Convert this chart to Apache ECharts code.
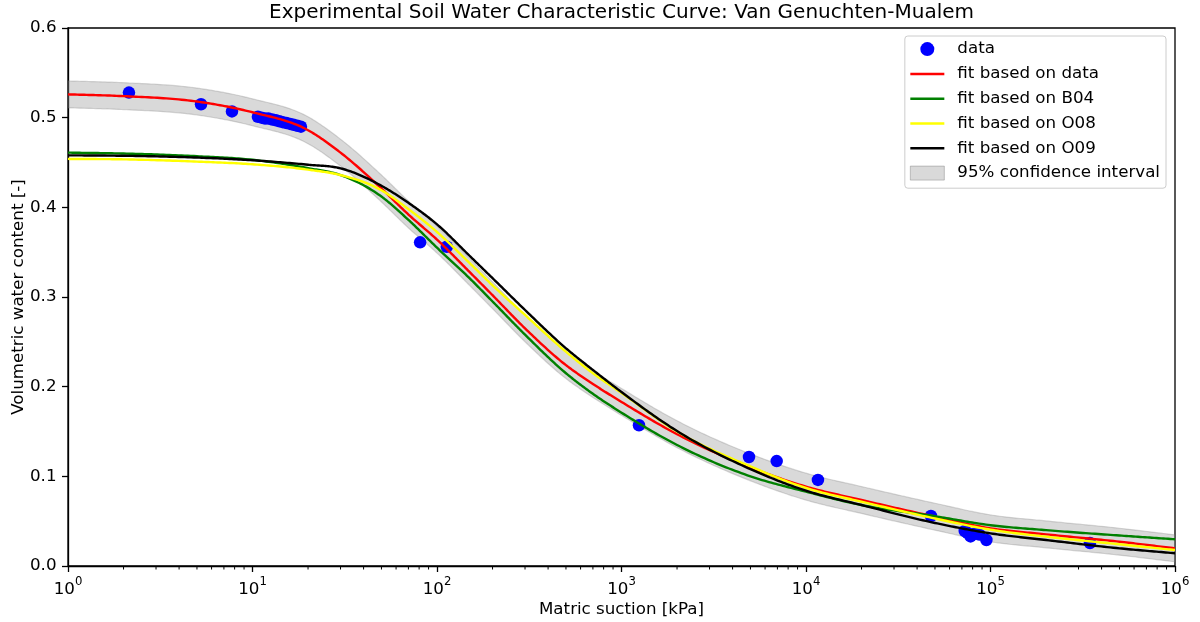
<!DOCTYPE html>
<html><head><meta charset="utf-8">
<script src="https://cdn.jsdelivr.net/npm/echarts@6/dist/echarts.min.js"></script>
<style>html,body{margin:0;padding:0;background:#fff}#c{width:1200px;height:622px}</style>
</head><body><div id="c"></div>
<script>
// ---- data ----
const suction = [1, 2, 5, 10, 20, 30, 50, 70, 100, 150, 200, 300, 500, 700, 1000, 2000, 5000, 10000, 20000, 50000, 100000, 200000, 500000, 1000000];
const fitData = [0.526, 0.524, 0.518, 0.506, 0.486, 0.461, 0.421, 0.392, 0.364, 0.328, 0.302, 0.265, 0.224, 0.203, 0.183, 0.147, 0.110, 0.0885, 0.0736, 0.055, 0.042, 0.0353, 0.0271, 0.0197];
const fitB04 = [0.461, 0.460, 0.457, 0.453, 0.4437, 0.436, 0.412, 0.386, 0.355, 0.321, 0.295, 0.258, 0.215, 0.192, 0.171, 0.135, 0.1, 0.0829, 0.068, 0.0555, 0.0455, 0.040, 0.034, 0.0298];
const fitO08 = [0.454, 0.4535, 0.451, 0.448, 0.442, 0.436, 0.419, 0.398, 0.3725, 0.338, 0.313, 0.280, 0.239, 0.215, 0.193, 0.150, 0.111, 0.087, 0.0717, 0.053, 0.0405, 0.0327, 0.0242, 0.0178];
const fitO09 = [0.458, 0.4575, 0.4555, 0.4525, 0.4475, 0.4435, 0.424, 0.405, 0.381, 0.346, 0.321, 0.2855, 0.2428, 0.2186, 0.194, 0.1505, 0.108, 0.084, 0.068, 0.048, 0.0364, 0.029, 0.0197, 0.0142];
const ciUpper = [0.541, 0.539, 0.533, 0.521, 0.501, 0.476, 0.436, 0.407, 0.379, 0.343, 0.317, 0.280, 0.239, 0.218, 0.198, 0.162, 0.125, 0.1035, 0.0886, 0.070, 0.057, 0.0503, 0.0421, 0.0347];
const ciLower = [0.511, 0.509, 0.503, 0.491, 0.471, 0.446, 0.406, 0.377, 0.349, 0.313, 0.287, 0.250, 0.209, 0.188, 0.168, 0.132, 0.095, 0.0735, 0.0586, 0.040, 0.027, 0.0203, 0.0121, 0.0047];

const obsSuction = [2.14, 5.26, 7.74, 10.7, 11.2, 11.7, 12.2, 12.8, 13.4, 14.0, 14.6, 15.3, 16.0, 16.7, 17.5, 18.3, 81, 113, 1244, 4909, 6936, 11610, 47550, 72500, 75000, 78000, 82000, 87000, 95000, 346000];
const obsTheta   = [0.528, 0.515, 0.507, 0.501, 0.500, 0.499, 0.499, 0.498, 0.497, 0.496, 0.495, 0.494, 0.493, 0.492, 0.491, 0.490, 0.361, 0.356, 0.157, 0.1216, 0.117, 0.096, 0.0558, 0.039, 0.037, 0.033, 0.036, 0.035, 0.029, 0.0257];

const xTickExponents = ['0', '1', '2', '3', '4', '5', '6'];
const yTickLabels = ['0.0', '0.1', '0.2', '0.3', '0.4', '0.5', '0.6'];

// ---- chart ----
const FONT = 'DejaVu Sans';
const FS = 16.7;
const minorTicks = [];
for (let e = 0; e < 6; e++) for (let m = 2; m <= 9; m++) minorTicks.push([m * Math.pow(10, e), 0]);
const lineIcon = 'path://M0,0H34V2.5H0Z';
const bandFill = 'rgba(128,128,128,0.3)';

// smooth cubic Hermite drawing through the projected pixel points (rendering only)
function smoothPx(pts) {
  const n = pts.length, h = [], d = [], m = [];
  for (let i = 0; i < n - 1; i++) { h[i] = pts[i + 1][0] - pts[i][0]; d[i] = (pts[i + 1][1] - pts[i][1]) / h[i]; }
  for (let i = 0; i < n; i++) {
    if (i === 0) m[i] = d[0];
    else if (i === n - 1) m[i] = d[n - 2];
    else m[i] = (d[i - 1] * h[i] + d[i] * h[i - 1]) / (h[i - 1] + h[i]);
  }
  const out = [];
  for (let i = 0; i < n - 1; i++) {
    const steps = 24;
    for (let s = 0; s < steps; s++) {
      const t = s / steps, t2 = t * t, t3 = t2 * t;
      const y = (2*t3 - 3*t2 + 1) * pts[i][1] + (t3 - 2*t2 + t) * h[i] * m[i] + (-2*t3 + 3*t2) * pts[i + 1][1] + (t3 - t2) * h[i] * m[i + 1];
      out.push([pts[i][0] + t * h[i], y]);
    }
  }
  out.push(pts[n - 1]);
  return out;
}

const chart = echarts.init(document.getElementById('c'));
const curveSeries = (name, ys, color) => ({
  name, type: 'custom', data: [[1, ys[0]]], clip: true, silent: true, z: 4,
  itemStyle: { color },
  renderItem: (params, api) => ({
    type: 'polyline',
    shape: { points: smoothPx(suction.map((x, i) => api.coord([x, ys[i]]))) },
    style: { stroke: color, lineWidth: 2.4, fill: null, lineJoin: 'round' }
  })
});

chart.setOption({
  animation: false,
  backgroundColor: '#fff',
  graphic: [{
    type: 'text', x: 621.5, y: 13,
    style: { text: 'Experimental Soil Water Characteristic Curve: Van Genuchten-Mualem', fontSize: 20, fontFamily: FONT, fill: '#000', textAlign: 'center', textVerticalAlign: 'middle' }
  }],
  grid: { left: 68, right: 25, top: 28, bottom: 56, containLabel: false, outerBoundsMode: 'none', show: true, borderColor: '#000', borderWidth: 1.3 },
  legend: {
    orient: 'vertical', right: 34, top: 36, padding: [4.6, 6, 6.6, 5], itemGap: 7.8, itemWidth: 34, itemHeight: 14,
    backgroundColor: '#fff', borderColor: '#cccccc', borderWidth: 1, borderRadius: 3,
    textStyle: { fontSize: FS, lineHeight: 16.7, fontFamily: FONT, color: '#000', padding: [0, 0, 0, 8] },
    data: [
      { name: 'data', icon: 'circle', itemStyle: { color: '#0000ff' } },
      { name: 'fit based on data', icon: lineIcon, itemStyle: { color: '#ff0000' } },
      { name: 'fit based on B04', icon: lineIcon, itemStyle: { color: '#008000' } },
      { name: 'fit based on O08', icon: lineIcon, itemStyle: { color: '#ffff00' } },
      { name: 'fit based on O09', icon: lineIcon, itemStyle: { color: '#000000' } },
      { name: '95% confidence interval', icon: 'rect', itemStyle: { color: bandFill, borderColor: 'rgba(128,128,128,0.45)', borderWidth: 1 } }
    ]
  },
  xAxis: {
    type: 'log', logBase: 10, min: 1, max: 1000000, interval: 1,
    axisLine: { show: true, onZero: false, lineStyle: { color: '#000', width: 1.3 } },
    axisTick: { show: true, length: 6, lineStyle: { color: '#000', width: 1.3 } },
    splitLine: { show: false },
    axisLabel: {
      margin: 10,
      formatter: v => '{b|10}{e|' + xTickExponents[Math.round(Math.log10(v))] + '}',
      rich: {
        b: { fontSize: FS, fontFamily: FONT, color: '#000', lineHeight: 22, verticalAlign: 'bottom' },
        e: { fontSize: 11.7, fontFamily: FONT, color: '#000', lineHeight: 12, verticalAlign: 'top' }
      }
    },
    name: 'Matric suction [kPa]', nameLocation: 'middle', nameGap: 35, nameMoveOverlap: false,
    nameTextStyle: { fontSize: FS, fontFamily: FONT, color: '#000' }
  },
  yAxis: {
    type: 'value', min: 0, max: 0.6, interval: 0.1,
    axisLine: { show: true, lineStyle: { color: '#000', width: 1.3 } },
    axisTick: { show: true, length: 6, lineStyle: { color: '#000', width: 1.3 } },
    splitLine: { show: false },
    axisLabel: { margin: 11.5, fontSize: FS, fontFamily: FONT, color: '#000', formatter: v => yTickLabels[Math.round(v * 10)] },
    name: 'Volumetric water content [-]', nameLocation: 'middle', nameGap: 41, nameRotate: 90, nameMoveOverlap: false,
    nameTextStyle: { fontSize: FS, fontFamily: FONT, color: '#000' }
  },
  series: [
    { name: '95% confidence interval', type: 'custom', data: [[1, 0]], clip: true, silent: true, z: 1,
      itemStyle: { color: bandFill },
      renderItem: (params, api) => {
        const up = smoothPx(suction.map((x, i) => api.coord([x, ciUpper[i]])));
        const lo = smoothPx(suction.map((x, i) => api.coord([x, ciLower[i]])));
        const pts = up.concat(lo.reverse());
        return { type: 'polygon', shape: { points: pts }, style: { fill: bandFill, stroke: 'rgba(128,128,128,0.3)', lineWidth: 1.2 } };
      } },
    { name: 'data', type: 'scatter', data: obsSuction.map((x, i) => [x, obsTheta[i]]), symbol: 'circle', symbolSize: 12.5,
      itemStyle: { color: '#0000ff', opacity: 1 }, z: 3, silent: true },
    curveSeries('fit based on data', fitData, '#ff0000'),
    curveSeries('fit based on B04', fitB04, '#008000'),
    curveSeries('fit based on O08', fitO08, '#ffff00'),
    curveSeries('fit based on O09', fitO09, '#000000'),
    { name: 'minorTicks', type: 'custom', data: minorTicks, clip: false, silent: true, z: 6,
      renderItem: (params, api) => {
        const p = api.coord([api.value(0), 0]);
        return { type: 'line', shape: { x1: p[0], y1: p[1], x2: p[0], y2: p[1] + 3.5 }, style: { stroke: '#000', lineWidth: 1 } };
      } }
  ]
});
</script>
</body></html>
